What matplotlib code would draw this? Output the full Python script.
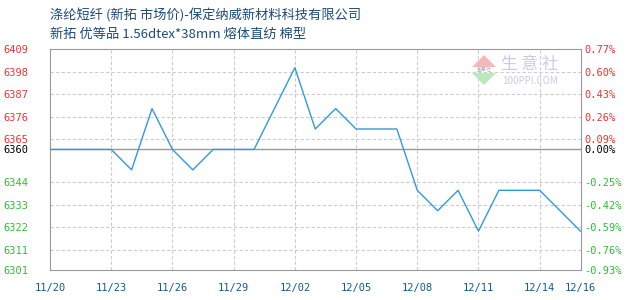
import matplotlib
matplotlib.use('Agg')
import matplotlib.pyplot as plt
from matplotlib.patches import Polygon
import numpy as np

plt.rcParams['font.family'] = ['Noto Sans CJK SC', 'DejaVu Sans']

# daily prices, 11/20 .. 12/16
days = np.arange(27)
price = [6360, 6360, 6360, 6360, 6350, 6380, 6360, 6350, 6360, 6360,
         6360, 6380, 6400, 6370, 6380, 6370, 6370, 6370, 6340, 6330,
         6340, 6320, 6340, 6340, 6340, 6330, 6320]
base = 6360
left_ticks = [6409, 6398, 6387, 6376, 6365, 6360, 6344, 6333, 6322, 6311, 6301]
right_labels = ['0.77%', '0.60%', '0.43%', '0.26%', '0.09%', '0.00%',
                '-0.25%', '-0.42%', '-0.59%', '-0.76%', '-0.93%']
x_ticks = [0, 3, 6, 9, 12, 15, 18, 21, 24, 26]
x_labels = ['11/20', '11/23', '11/26', '11/29', '12/02', '12/05',
            '12/08', '12/11', '12/14', '12/16']

title1 = '涤纶短纤 (新拓 市场价)-保定纳威新材料科技有限公司'
title2 = '新拓 优等品 1.56dtex*38mm 熔体直纺 棉型'

red, green, blue_txt = '#ee3333', '#33bb33', '#135a8c'
mono = 'DejaVu Sans Mono'

fig = plt.figure(figsize=(6.3, 3.0), dpi=100)
ax = fig.add_axes([50 / 630, 30 / 300, 530.5 / 630, 220.7 / 300])

ax.set_xlim(0, 26)
ax.set_ylim(6301, 6409)

for t in left_ticks:
    if t == base:
        ax.axhline(t, color='#999999', lw=1, zorder=1)
    elif t not in (6301, 6409):
        ax.axhline(t, color='#cccccc', lw=0.8, ls=(0, (3, 2)), zorder=0)
for t in x_ticks[1:-1]:
    ax.axvline(t, color='#cccccc', lw=0.8, ls=(0, (3, 2)), zorder=0)

ax.plot(days, price, color='#3399dd', lw=1, zorder=3)

for s in ax.spines.values():
    s.set_color('#999999')

ax.set_yticks(left_ticks)
ax.set_yticklabels([str(t) for t in left_ticks], fontsize=7.5, family=mono)
for lab, t in zip(ax.get_yticklabels(), left_ticks):
    lab.set_color(red if t > base else ('black' if t == base else green))
ax.tick_params(axis='y', length=0, pad=15.5)

ax.set_xticks(x_ticks)
ax.set_xticklabels(x_labels, fontsize=7.5, color=blue_txt, family=mono)
ax.tick_params(axis='x', length=0, pad=9)

ax2 = ax.twinx()
ax2.set_ylim(6301, 6409)
ax2.set_yticks(left_ticks)
ax2.set_yticklabels(right_labels, fontsize=7.5, family=mono)
for lab, t in zip(ax2.get_yticklabels(), left_ticks):
    lab.set_color(red if t > base else ('black' if t == base else green))
ax2.tick_params(axis='y', length=0, pad=3)
for s in ax2.spines.values():
    s.set_visible(False)

# watermark
def fx(px):
    return px / 630


def fy(py):
    return 1 - py / 300


fig.patches.append(Polygon([(fx(472), fy(67)), (fx(484), fy(55)), (fx(496), fy(67))],
                           closed=True, transform=fig.transFigure,
                           facecolor='#f4b8b8', edgecolor='none'))
fig.patches.append(Polygon([(fx(472), fy(73)), (fx(484), fy(85)), (fx(496), fy(73))],
                           closed=True, transform=fig.transFigure,
                           facecolor='#bde8bd', edgecolor='none'))
fig.text(fx(484), fy(70), '生意社', fontsize=3.5, color='#a0a8b8', ha='center',
         va='center')
fig.text(fx(530), fy(65), '生 意 社', fontsize=12, color='#c8cce0', ha='center',
         va='center')
fig.text(fx(530), fy(81), '100PPI.COM', fontsize=7, color='#c8cce0', ha='center',
         va='center')

fig.text(50 / 630, 1 - 16 / 300, title1, fontsize=9.5, color='#1b4a7a',
         ha='left', va='center')
fig.text(50 / 630, 1 - 34 / 300, title2, fontsize=9.5, color='#1b4a7a',
         ha='left', va='center')

plt.savefig('out.png', dpi=100)
